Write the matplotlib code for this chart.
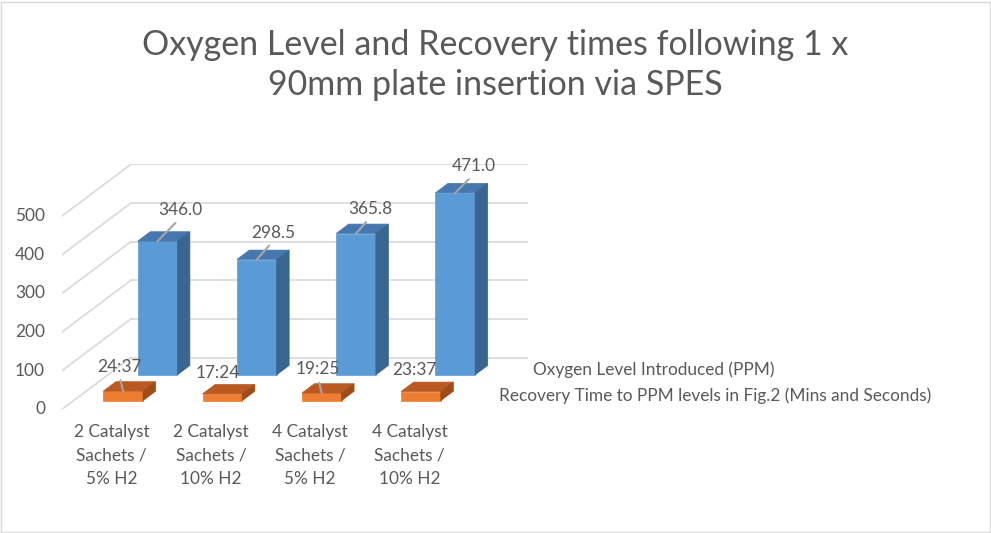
import matplotlib
matplotlib.use("Agg")
import matplotlib.pyplot as plt
from matplotlib.patches import Polygon, Rectangle

plt.rcParams['font.family'] = ['Lato', 'DejaVu Sans']

# chart data
categories = ["2 Catalyst\nSachets /\n5% H2", "2 Catalyst\nSachets /\n10% H2",
              "4 Catalyst\nSachets /\n5% H2", "4 Catalyst\nSachets /\n10% H2"]
oxygen_ppm = [346.0, 298.5, 365.8, 471.0]
recovery_time = ["24:37", "17:24", "19:25", "23:37"]
y_ticks = [0, 100, 200, 300, 400, 500]
series_names = ["Oxygen Level Introduced (PPM)",
                "Recovery Time to PPM levels in Fig.2 (Mins and Seconds)"]
title = "Oxygen Level and Recovery times following 1 x\n90mm plate insertion via SPES"


# "mm:ss" -> minutes as a float
def to_minutes(t):
    m, s = t.split(":")
    return int(m) + int(s) / 60.0


recovery_min = [to_minutes(t) for t in recovery_time]

TEXT = "#595959"
GRID = "#D9D9D9"
LEADER = "#A6A6A6"
BLUE = ("#5B9BD5", "#4677AE", "#3A6590")     # front, top, side
ORANGE = ("#ED7D31", "#BA5A22", "#9E4C18")
FS = 12.4

# oblique offset for the full depth of the plot box, in (category, value) units
DEPTH_X = 0.695
DEPTH_Y = 134.0
BAR_W = 0.4
BLUE_DEPTH = (0.665, 0.847)
ORANGE_DEPTH = (0.167, 0.349)


def project(x, v, d):
    return x + DEPTH_X * d, v + DEPTH_Y * d


def draw_bar(ax, xc, v, depth, colors):
    d0, d1 = depth
    x0, x1 = xc - BAR_W / 2, xc + BAR_W / 2
    front = [project(x0, 0, d0), project(x1, 0, d0), project(x1, v, d0), project(x0, v, d0)]
    top = [project(x0, v, d0), project(x1, v, d0), project(x1, v, d1), project(x0, v, d1)]
    side = [project(x1, 0, d0), project(x1, 0, d1), project(x1, v, d1), project(x1, v, d0)]
    for pts, c in zip((front, top, side), colors):
        ax.add_patch(Polygon(pts, closed=True, fc=c, ec=c, lw=0.5, zorder=3))


def data_label(ax, xy, text, offset, leader):
    arrow = None
    if leader:
        arrow = dict(arrowstyle='-', color=LEADER, lw=1.5, relpos=(0.5, 0.0),
                     shrinkA=2, shrinkB=0)
    ax.annotate(text, xy=xy, xytext=offset, textcoords='offset pixels',
                ha='center', va='center', fontsize=FS, color=TEXT,
                arrowprops=arrow, zorder=5, annotation_clip=False)


fig = plt.figure(figsize=(9.91, 5.33), dpi=100)
ax = fig.add_axes([62 / 991, 1 - 409.3 / 533, 466 / 991, 245 / 533])
n = len(categories)
ax.set_xlim(0, n + DEPTH_X)
ax.set_ylim(0, y_ticks[-1] + DEPTH_Y)
ax.axis('off')

# back wall and side wall grid, value labels
for v in y_ticks:
    ax.plot([DEPTH_X, n + DEPTH_X], [v + DEPTH_Y, v + DEPTH_Y], color=GRID, lw=1.2, zorder=1)
    ax.plot([0, DEPTH_X], [v, v + DEPTH_Y], color=GRID, lw=1.2, zorder=1)
    ax.text(-0.171, v, str(v), ha='right', va='center', fontsize=FS, color=TEXT)

# back row first, then the front row
for i, v in enumerate(oxygen_ppm):
    draw_bar(ax, i + 0.5, v, BLUE_DEPTH, BLUE)
for i, v in enumerate(recovery_min):
    draw_bar(ax, i + 0.5, v, ORANGE_DEPTH, ORANGE)

# data labels (dragged off the bars in the original, hence the leaders)
blue_offsets = [(22.7, 31), (16.6, 26.7), (14.5, 24.3), (18.3, 26.4)]
for i, v in enumerate(oxygen_ppm):
    data_label(ax, project(i + 0.5, v, BLUE_DEPTH[0]), "%.1f" % v, blue_offsets[i], True)

orange_offsets = [(-4.2, 24.5), (-4.5, 21.3), (-3.8, 23.9), (-6.7, 21.6)]
orange_leaders = [True, False, True, False]
for i, v in enumerate(recovery_min):
    data_label(ax, project(i + 0.5, v, ORANGE_DEPTH[0]), recovery_time[i],
               orange_offsets[i], orange_leaders[i])

# category labels under the front edge
for i, name in enumerate(categories):
    ax.annotate(name, xy=(i + 0.5, 0), xytext=(0, -46), textcoords='offset pixels',
                ha='center', va='center', fontsize=FS, color=TEXT, linespacing=1.6,
                annotation_clip=False)

# series names along the depth axis
for name, depth in zip(series_names, (BLUE_DEPTH, ORANGE_DEPTH)):
    dc = (depth[0] + depth[1]) / 2
    ax.annotate(name, xy=project(n, 0, dc), xytext=(22, 0), textcoords='offset pixels',
                ha='left', va='center', fontsize=FS, color=TEXT, annotation_clip=False)

fig.text(0.5, 1 - 65 / 533, title, ha='center', va='center', fontsize=24.5,
         color=TEXT, linespacing=1.34)

fig.patches.append(Rectangle((0.5 / 991, 1.5 / 533), 989 / 991, 530 / 533,
                             transform=fig.transFigure, fill=False, ec=GRID, lw=1))

fig.savefig("out.png", dpi=100, facecolor="white")
